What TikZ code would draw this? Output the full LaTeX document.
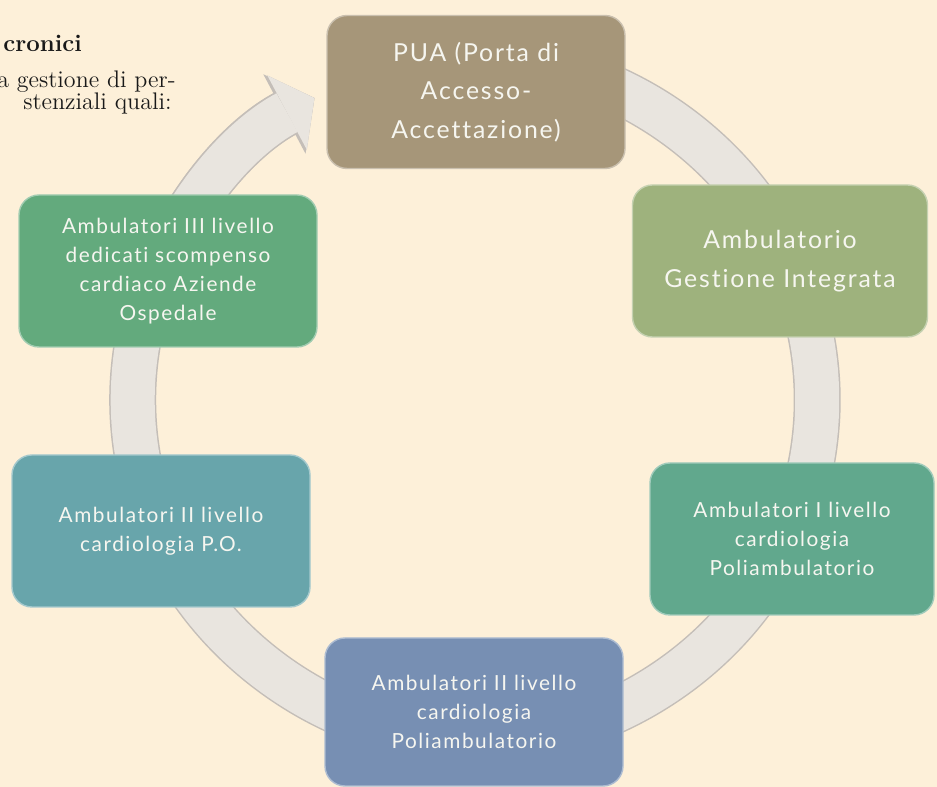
\documentclass[tikz,border=0pt]{standalone}
\usepackage{fontspec}
\newfontfamily\boxfont{Lato}[LetterSpace=7.5, Ligatures={NoCommon, NoContextual}]
\usetikzlibrary{arrows.meta, positioning, calc}

\definecolor{paper}{RGB}{253,240,217}
\definecolor{puacol}{RGB}{166,150,121}
\definecolor{gestcol}{RGB}{158,178,125}
\definecolor{ilvcol}{RGB}{97,168,141}
\definecolor{polcol}{RGB}{119,143,179}
\definecolor{pocol}{RGB}{104,165,171}
\definecolor{iiicol}{RGB}{99,170,125}
\definecolor{bandfill}{RGB}{233,229,223}
\definecolor{bandedge}{RGB}{196,190,184}
\definecolor{boxtext}{RGB}{246,246,240}

\pgfdeclarelayer{ring}
\pgfsetlayers{ring,main}

\begin{document}
\begin{tikzpicture}[x=0.5pt, y=0.5pt, >=Latex]
  % Styles
  \tikzset{
    box/.style={rounded corners=10pt, draw=#1!60!white, line width=0.7pt, fill=#1, text=boxtext, align=center, minimum width=149pt, minimum height=76pt, font=\boxfont\fontsize{10.4}{14.5}\selectfont},
    bigbox/.style={box=#1, font=\boxfont\fontsize{12.4}{19.2}\selectfont},
    band/.style={line width=22pt, draw=bandfill, bend left=#1, looseness=0.9, preaction={draw=bandedge, line width=23.5pt}},
    tipband/.style={band=#1, -{Triangle[width=42pt, length=15.5pt, line width'=0pt]}, preaction={draw=bandedge, line width=23.5pt, -{Triangle[width=45pt, length=17pt, line width'=0pt]}}},
    page/.style={inner sep=0pt, text=black!90, font=\fontsize{12}{14}\selectfont}
  }
  \useasboundingbox (0,0) rectangle (937,787);
  \begin{pgfonlayer}{ring}
    \fill[paper] (0,0) rectangle (937,787);
  \end{pgfonlayer}

  % Page text
  \node[page, anchor=base west, font=\fontsize{12}{14}\selectfont\bfseries] (hd) at (3,735) {cronici};
  \node[page, anchor=base east] (l1) at (176,699) {a gestione di per-};
  \node[page, anchor=base east] (l2) at (172,677) {stenziali quali:};

  % Nodes
  \coordinate (hub) at (475,387);
  \node[bigbox=puacol, minimum height=76.5pt, yshift=-3pt] (pua) at (476,701) {PUA (Porta di\\Accesso-\\Accettazione)};
  \node[bigbox=gestcol, minimum width=147.5pt] (gest) at (780,526) {Ambulatorio\\Gestione Integrata};
  \node[box=ilvcol, minimum width=142pt] (ilv) at (792,248) {Ambulatori I livello\\cardiologia\\Poliambulatorio};
  \node[box=polcol, minimum height=74pt] (pol) at (474,75) {Ambulatori II livello\\cardiologia\\Poliambulatorio};
  \node[box=pocol] (po) at (161,256) {Ambulatori II livello\\cardiologia P.O.};
  \node[box=iiicol] (iii) at (168,516) {Ambulatori III livello\\dedicati scompenso\\cardiaco Aziende\\Ospedale};

  \foreach \name/\ang in {pua/90, gest/24, ilv/-24, pol/-90, po/-157, iii/157, tip/118}
    \coordinate (r-\name) at ($(hub)+(\ang:342)$);

  % Arrows
  \begin{pgfonlayer}{ring}
    \draw[band=33] (r-pua) to (r-gest);
    \draw[band=24] (r-gest) to (r-ilv);
    \draw[band=33] (r-ilv) to (r-pol);
    \draw[band=33.5] (r-pol) to (r-po);
    \draw[band=23] (r-po) to (r-iii);
    \draw[tipband=19.5] (r-iii) to (r-tip);
  \end{pgfonlayer}
\end{tikzpicture}
\end{document}
